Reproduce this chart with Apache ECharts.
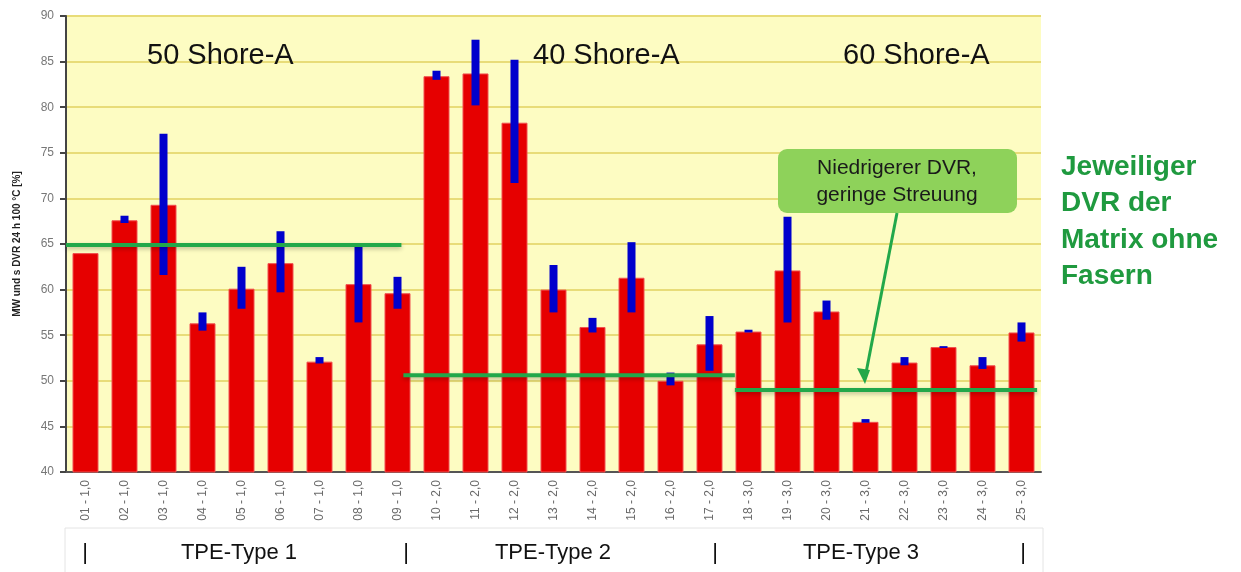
<!DOCTYPE html>
<html>
<head>
<meta charset="utf-8">
<script src="https://cdn.jsdelivr.net/npm/echarts@6/dist/echarts.min.js"></script>
<style>
  html, body { margin: 0; padding: 0; background: #fff; }
  #chart { width: 1241px; height: 572px; }
</style>
</head>
<body>
<div id="chart"></div>
<script>
// Kategorien (Probe - Typ)
var categories = ['01 - 1,0', '02 - 1,0', '03 - 1,0', '04 - 1,0', '05 - 1,0', '06 - 1,0', '07 - 1,0', '08 - 1,0', '09 - 1,0',
  '10 - 2,0', '11 - 2,0', '12 - 2,0', '13 - 2,0', '14 - 2,0', '15 - 2,0', '16 - 2,0', '17 - 2,0',
  '18 - 3,0', '19 - 3,0', '20 - 3,0', '21 - 3,0', '22 - 3,0', '23 - 3,0', '24 - 3,0', '25 - 3,0']
// Mittelwert DVR
var meanValues = [64.0, 67.6, 69.3, 56.3, 60.1, 62.9, 52.1, 60.6, 59.6, 83.4, 83.7, 78.3, 60.0, 55.9, 61.3, 50.0, 54.0,
  55.4, 62.1, 57.6, 45.5, 52.0, 53.7, 51.7, 55.3]
// Streuung (untere / obere Grenze)
var errLow = [64.0, 67.3, 61.6, 55.5, 57.9, 59.7, 51.9, 56.4, 57.9, 83.0, 80.2, 71.7, 57.5, 55.3, 57.5, 49.5, 51.1,
  55.3, 56.4, 56.7, 45.4, 51.7, 53.6, 51.3, 54.3]
var errHigh = [64.0, 68.1, 77.1, 57.5, 62.5, 66.4, 52.6, 64.7, 61.4, 84.0, 87.4, 85.2, 62.7, 56.9, 65.2, 50.9, 57.1,
  55.6, 68.0, 58.8, 45.8, 52.6, 53.8, 52.6, 56.4]
// DVR der Matrix ohne Fasern: [von, bis (Kategorie-Index), Wert]
var matrixLines = [[-0.5, 8.1, 64.9], [8.15, 16.65, 50.6], [16.65, 24.4, 49.0]]
var shoreLabels = ['50 Shore-A', '40 Shore-A', '60 Shore-A']
var typeLabels = ['TPE-Type 1', 'TPE-Type 2', 'TPE-Type 3']
var yTicks = [40, 45, 50, 55, 60, 65, 70, 75, 80, 85, 90]

var font = "'Liberation Sans', Arial, sans-serif"
var green = '#22a84a'

var errData = categories.map(function (c, i) { return [i, errLow[i], errHigh[i]] })

var myChart = echarts.init(document.getElementById('chart'))
myChart.setOption({
  animation: false,
  textStyle: { fontFamily: font },
  grid: {
    left: 66, top: 16, right: 200, bottom: 100,
    show: true, backgroundColor: '#fdfcc2', borderWidth: 0
  },
  xAxis: {
    type: 'category',
    data: categories,
    axisLine: { lineStyle: { color: '#555', width: 2 } },
    axisTick: { show: false },
    axisLabel: { rotate: 90, fontSize: 12, color: '#6a6a6a', margin: 8 }
  },
  yAxis: {
    type: 'value',
    min: yTicks[0], max: yTicks[yTicks.length - 1], interval: 5,
    name: 'MW und s DVR 24 h 100 °C [%]',
    nameLocation: 'middle', nameGap: 44,
    nameTextStyle: { fontSize: 10, fontWeight: 'bold', color: '#222' },
    axisLine: { show: true, lineStyle: { color: '#444', width: 2 } },
    axisTick: { show: true, length: 6, lineStyle: { color: '#444', width: 2 } },
    axisLabel: { fontSize: 12, color: '#777', margin: 12 },
    splitLine: { lineStyle: { color: '#e8dc78', width: 2 } }
  },
  series: [
    {
      name: 'MW',
      type: 'bar',
      data: meanValues,
      barWidth: 26,
      itemStyle: { color: '#e60000', borderColor: '#f05050', borderWidth: 1 },
      z: 2
    },
    {
      name: 's',
      type: 'custom',
      data: errData,
      renderItem: function (params, api) {
        var lo = api.coord([api.value(0), api.value(1)])
        var hi = api.coord([api.value(0), api.value(2)])
        return {
          type: 'rect',
          shape: { x: lo[0] - 4, y: hi[1], width: 8, height: lo[1] - hi[1] },
          style: { fill: '#0000cc' }
        }
      },
      z: 3
    },
    {
      name: 'Matrix',
      type: 'custom',
      data: matrixLines,
      renderItem: function (params, api) {
        var val = api.value(2)
        var band = api.size([1, 0])[0]
        function px(v) {
          var i = Math.max(0, Math.round(v))
          return api.coord([i, val])[0] + (v - i) * band
        }
        var y = api.coord([0, val])[1]
        return {
          type: 'line',
          shape: { x1: px(api.value(0)), y1: y, x2: px(api.value(1)), y2: y },
          style: { stroke: green, lineWidth: 4, shadowBlur: 4, shadowColor: 'rgba(0,0,0,0.25)', shadowOffsetY: 2 }
        }
      },
      z: 4
    }
  ],
  graphic: [
    { type: 'text', left: 147, top: 41, z: 20, style: { text: shoreLabels[0], font: '29px ' + font, fill: '#111' } },
    { type: 'text', left: 533, top: 41, z: 20, style: { text: shoreLabels[1], font: '29px ' + font, fill: '#111' } },
    { type: 'text', left: 843, top: 41, z: 20, style: { text: shoreLabels[2], font: '29px ' + font, fill: '#111' } },
    // Hinweisbox
    {
      type: 'rect', shape: { x: 778, y: 149, width: 239, height: 64, r: 9 },
      style: { fill: '#8ed25a' }, z: 10
    },
    {
      type: 'text', x: 897, y: 182, z: 11,
      style: {
        text: 'Niedrigerer DVR,\ngeringe Streuung', font: '21px ' + font, fill: '#1a1a1a',
        align: 'center', verticalAlign: 'middle', lineHeight: 27
      }
    },
    {
      type: 'line', shape: { x1: 897, y1: 213, x2: 865, y2: 378 },
      style: { stroke: green, lineWidth: 3 }, z: 10
    },
    {
      type: 'polygon', shape: { points: [[865, 384], [857, 368], [870, 370]] },
      style: { fill: green }, z: 10
    },
    // Legende rechts
    {
      type: 'text', left: 1061, top: 149,
      style: {
        text: 'Jeweiliger\nDVR der\nMatrix ohne\nFasern', font: 'bold 28px ' + font,
        fill: '#1f9a3f', lineHeight: 36.5
      }
    },
    // Gruppenzeile unten
    {
      type: 'rect', shape: { x: 65, y: 528, width: 978, height: 60 },
      style: { fill: '#fff', stroke: '#e4e4e4', lineWidth: 1 }
    },
    { type: 'text', x: 85, y: 553, style: { text: '|', font: '22px ' + font, fill: '#111', align: 'center', verticalAlign: 'middle' } },
    { type: 'text', x: 406, y: 553, style: { text: '|', font: '22px ' + font, fill: '#111', align: 'center', verticalAlign: 'middle' } },
    { type: 'text', x: 715, y: 553, style: { text: '|', font: '22px ' + font, fill: '#111', align: 'center', verticalAlign: 'middle' } },
    { type: 'text', x: 1023, y: 553, style: { text: '|', font: '22px ' + font, fill: '#111', align: 'center', verticalAlign: 'middle' } },
    { type: 'text', x: 239, y: 553, style: { text: typeLabels[0], font: '22px ' + font, fill: '#111', align: 'center', verticalAlign: 'middle' } },
    { type: 'text', x: 553, y: 553, style: { text: typeLabels[1], font: '22px ' + font, fill: '#111', align: 'center', verticalAlign: 'middle' } },
    { type: 'text', x: 861, y: 553, style: { text: typeLabels[2], font: '22px ' + font, fill: '#111', align: 'center', verticalAlign: 'middle' } }
  ]
})
</script>
</body>
</html>
